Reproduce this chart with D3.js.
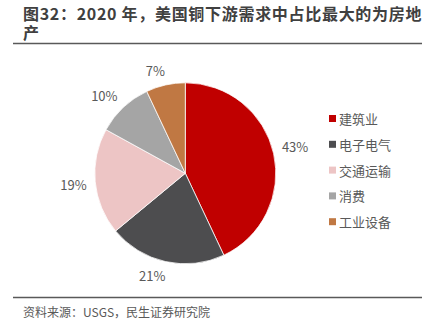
<!DOCTYPE html>
<html><head><meta charset="utf-8">
<script src="https://cdn.jsdelivr.net/npm/d3@7/dist/d3.min.js"></script>
<style>
html,body{margin:0;padding:0;background:#fff;}
svg{display:block;font-family:"Noto Sans CJK SC","Noto Sans",sans-serif;}
</style></head>
<body>
<svg id="c" width="433" height="333"></svg>
<script>
const categories = ["建筑业", "电子电气", "交通运输", "消费", "工业设备"];
const values = [43, 21, 19, 10, 7];
const colors = ["#C00000", "#4D4D4F", "#EDC5C5", "#A5A5A5", "#C07843"];
const titleLines = ["图32：2020 年，美国铜下游需求中占比最大的为房地", "产"];
const sourceText = "资料来源：USGS，民生证券研究院";

const svg = d3.select("#c");

// title
const title = svg.append("text").attr("fill", "#404040").attr("font-weight", "bold")
  .attr("font-size", 16).attr("letter-spacing", 0.7);
titleLines.forEach((t, i) => {
  title.append("tspan").attr("x", 23).attr("y", 20 + i * 18.5).text(t);
});
svg.append("line").attr("x1", 13).attr("x2", 422).attr("y1", 43.5).attr("y2", 43.5)
  .attr("stroke", "#595959").attr("stroke-width", 1.5);

// pie
const cx = 185.3, cy = 173.3, R = 90.5;
const g = svg.append("g").attr("transform", `translate(${cx},${cy})`);
const pie = d3.pie().sort(null).value(d => d)(values);
const arc = d3.arc().innerRadius(0).outerRadius(R);
g.selectAll("path.slice").data(pie).join("path")
  .attr("class", "slice")
  .attr("d", arc)
  .attr("fill", (d, i) => colors[i])
  .attr("stroke", "#fff").attr("stroke-width", 0.75);

// labels (outside end)
const fmt = d => d + "%";
const labelR = 99, k = 4;
const clamp = v => Math.max(-1, Math.min(1, v));
pie.forEach((d, i) => {
  const a = (d.startAngle + d.endAngle) / 2;
  const s = Math.sin(a), c = Math.cos(a);
  const t = g.append("text").attr("font-size", 13).attr("fill", "#595959")
    .attr("text-anchor", "middle").attr("dominant-baseline", "central").text(fmt(d.data));
  const w = t.node().getComputedTextLength();
  const h = 12;
  const px = s * labelR + clamp(s * k) * w / 2;
  const py = -c * labelR - clamp(c * k) * h / 2;
  t.attr("x", px).attr("y", py);
});

// legend
const lg = svg.append("g");
categories.forEach((name, i) => {
  const y = 118.5 + i * 25.8;
  lg.append("rect").attr("x", 329).attr("y", y - 3.5).attr("width", 7).attr("height", 7).attr("fill", colors[i]);
  lg.append("text").attr("x", 339).attr("y", y).attr("dominant-baseline", "central")
    .attr("font-size", 13).attr("fill", "#595959").text(name);
});

// footer
svg.append("line").attr("x1", 13).attr("x2", 422).attr("y1", 297.5).attr("y2", 297.5)
  .attr("stroke", "#595959").attr("stroke-width", 1.5);
svg.append("text").attr("x", 23).attr("y", 311).attr("dominant-baseline", "central")
  .attr("font-size", 12).attr("fill", "#595959").text(sourceText);
</script>
</body></html>
